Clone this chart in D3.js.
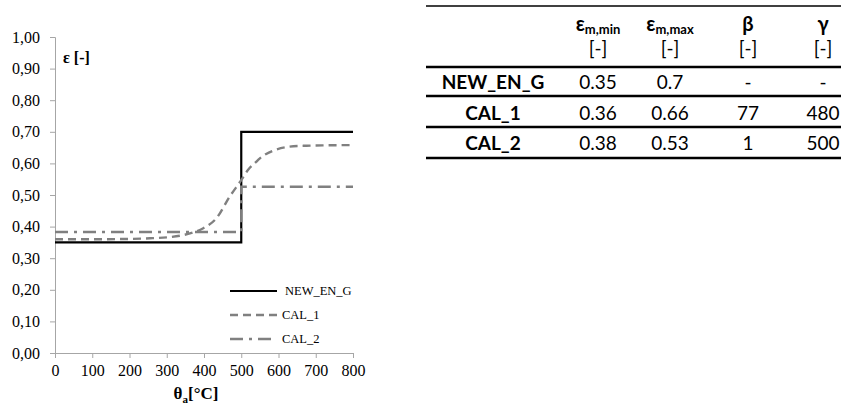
<!DOCTYPE html>
<html>
<head>
<meta charset="utf-8">
<script src="https://cdnjs.cloudflare.com/ajax/libs/d3/7.8.5/d3.min.js"></script>
<style>
  body { margin: 0; background: #fff; }
  #app svg { display: block; }
  #app svg .ax text, #app svg .serif { font-family: "Liberation Serif", "Times New Roman", Times, serif !important; }
</style>
</head>
<body>
<div id="app"></div>
<script>
// series
const newEnTheta = [0, 500, 500, 800]
const newEnEps = [0.35, 0.35, 0.70, 0.70]

const cal1Theta = [0, 100, 200, 255, 300, 344, 370, 398, 433, 469, 500, 518, 540, 550, 567, 585, 630, 675, 720, 800]
const cal1Eps = [0.360, 0.360, 0.361, 0.363, 0.366, 0.373, 0.381, 0.395, 0.426, 0.495, 0.547, 0.579, 0.605, 0.616, 0.630, 0.640, 0.653, 0.656, 0.657, 0.658]

const cal2Theta = [0, 500, 500, 800]
const cal2Eps = [0.383, 0.383, 0.526, 0.526]

const seriesNames = ['NEW_EN_G', 'CAL_1', 'CAL_2']

const xTicks = [0, 100, 200, 300, 400, 500, 600, 700, 800]
const yTicks = [0, 0.1, 0.2, 0.3, 0.4, 0.5, 0.6, 0.7, 0.8, 0.9, 1.0]

// parameter table
const tableNames = ['NEW_EN_G', 'CAL_1', 'CAL_2']
const tableEmMin = ['0.35', '0.36', '0.38']
const tableEmMax = ['0.7', '0.66', '0.53']
const tableBeta = ['-', '77', '1']
const tableGamma = ['-', '480', '500']

;(function (d3) {

  'use strict'

  const w = 841
  const h = 405
  const serif = 'Liberation Serif'
  const sans = 'Lato'

  const svg = d3.select('#app')
  .append('svg')
  .attr('width', w)
  .attr('height', h)

  const x = d3.scaleLinear()
  .domain([0, 800])
  .range([55, 353])

  const y = d3.scaleLinear()
  .domain([0, 1])
  .range([353, 37])

  const comma = d3.formatLocale({decimal: ',', thousands: '.', grouping: [3], currency: ['', '']})

  const axisColor = '#a6a6a6'

  const gx = svg.append('g')
  .attr('class', 'ax')
  .attr('transform', 'translate(0,' + y(0) + ')')
  .call(d3.axisBottom(x).tickValues(xTicks).tickSize(5).tickPadding(7).tickFormat(d3.format('d')))
  .attr('font-family', serif)
  .attr('font-size', 16)
  gx.select('.domain').attr('stroke', axisColor)
  gx.selectAll('.tick line').attr('stroke', axisColor)
  gx.selectAll('.tick text').attr('fill', '#000')

  const gy = svg.append('g')
  .attr('class', 'ax')
  .attr('transform', 'translate(' + x(0) + ',0)')
  .call(d3.axisLeft(y).tickValues(yTicks).tickSize(5).tickPadding(10).tickFormat(comma.format('.2f')))
  .attr('font-family', serif)
  .attr('font-size', 16)
  gy.select('.domain').attr('stroke', axisColor)
  gy.selectAll('.tick line').attr('stroke', axisColor)
  gy.selectAll('.tick text').attr('fill', '#000')

  svg.append('text')
  .attr('class', 'serif')
  .attr('x', 63)
  .attr('y', 63)
  .attr('font-size', 16)
  .attr('font-weight', 'bold')
  .text('ε [-]')

  const xTitle = svg.append('text')
  .attr('class', 'serif')
  .attr('x', 196)
  .attr('y', 399)
  .attr('text-anchor', 'middle')
  .attr('font-size', 17)
  .attr('font-weight', 'bold')
  xTitle.append('tspan').text('θ')
  xTitle.append('tspan').attr('dy', 4).attr('font-size', 11).text('a')
  xTitle.append('tspan').attr('dy', -4).text('[°C]')

  const line = d3.line()
  .x(d => x(d[0]))
  .y(d => y(d[1]))

  const styles = [
    {stroke: '#000', width: 2.2, dash: null},
    {stroke: '#808080', width: 2.4, dash: '8,5'},
    {stroke: '#808080', width: 2.4, dash: '13,6,3,6'}
  ]

  const series = [
    d3.zip(newEnTheta, newEnEps),
    d3.zip(cal1Theta, cal1Eps),
    d3.zip(cal2Theta, cal2Eps)
  ]

  series.forEach(function (pts, i) {
    const l = i === 1 ? line.curve(d3.curveMonotoneX) : line.curve(d3.curveLinear)
    svg.append('path')
    .datum(pts)
    .attr('fill', 'none')
    .attr('stroke', styles[i].stroke)
    .attr('stroke-width', styles[i].width)
    .attr('stroke-dasharray', styles[i].dash)
    .attr('d', l)
  })

  // legend
  const legend = svg.append('g')
  .selectAll('g')
  .data(seriesNames)
  .enter()
  .append('g')
  .attr('transform', (d, i) => 'translate(230,' + (291 + i * 24) + ')')

  legend.append('line')
  .attr('x1', 0)
  .attr('x2', 47)
  .attr('stroke', (d, i) => styles[i].stroke)
  .attr('stroke-width', (d, i) => styles[i].width)
  .attr('stroke-dasharray', (d, i) => styles[i].dash)

  legend.append('text')
  .attr('class', 'serif')
  .attr('x', (d, i) => i === 0 ? 55 : 52)
  .attr('dy', '0.35em')
  .attr('font-size', 12.5)
  .text(d => d)

  // table
  const tbl = svg.append('g').attr('font-family', sans)
  const colX = [493, 598, 670, 748, 823]
  const rowY = [89, 120, 150]
  const rules = [6, 67, 96, 127, 158]

  tbl.selectAll('line')
  .data(rules)
  .enter()
  .append('line')
  .attr('x1', 426)
  .attr('x2', w)
  .attr('y1', d => d)
  .attr('y2', d => d)
  .attr('stroke', '#000')
  .attr('stroke-width', (d, i) => i === 0 ? 1.5 : 2.5)

  const headMain = ['ε', 'ε', 'β', 'γ']
  const headSub = ['m,min', 'm,max', '', '']
  headMain.forEach(function (m, i) {
    const t = tbl.append('text')
    .attr('x', colX[i + 1])
    .attr('y', 31)
    .attr('text-anchor', 'middle')
    .attr('font-size', 20)
    .attr('font-weight', 'bold')
    t.append('tspan').text(m)
    if (headSub[i]) t.append('tspan').attr('dy', 3).attr('font-size', 13).text(headSub[i])
    tbl.append('text')
    .attr('x', colX[i + 1])
    .attr('y', 55)
    .attr('text-anchor', 'middle')
    .attr('fill', '#000')
    .attr('font-size', 19)
    .text('[-]')
  })

  const cols = [tableEmMin, tableEmMax, tableBeta, tableGamma]
  tableNames.forEach(function (name, r) {
    tbl.append('text')
    .attr('x', colX[0])
    .attr('y', rowY[r])
    .attr('text-anchor', 'middle')
    .attr('font-size', 19)
    .attr('font-weight', 'bold')
    .text(name)
    cols.forEach(function (col, c) {
      tbl.append('text')
      .attr('x', colX[c + 1])
      .attr('y', rowY[r])
      .attr('text-anchor', 'middle')
      .attr('font-size', 19)
      .text(col[r])
    })
  })

}(d3))
</script>
</body>
</html>
